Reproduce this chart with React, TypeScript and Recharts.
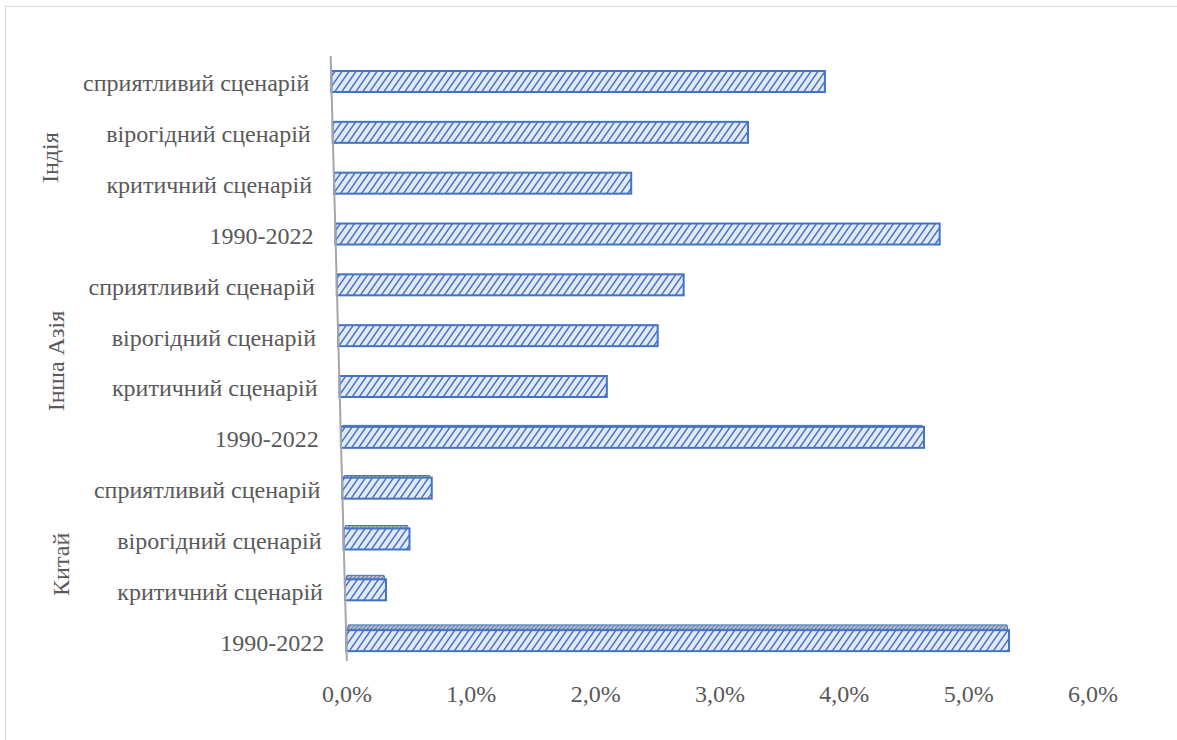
import { BarChart, Bar, XAxis, YAxis, ReferenceLine } from 'recharts';

// rows top to bottom: three regions, four series each
const regions = ['Індія', 'Інша Азія', 'Китай'];
const scenarios = ['сприятливий сценарій', 'вірогідний сценарій', 'критичний сценарій', '1990-2022'];

const indiaValues = [0.0397, 0.0334, 0.0239, 0.0486];
const otherAsiaValues = [0.0279, 0.0257, 0.0215, 0.0469];
const chinaValues = [0.0072, 0.0053, 0.0033, 0.0533];

const xTicks = [0, 0.01, 0.02, 0.03, 0.04, 0.05, 0.06];

const data = [indiaValues, otherAsiaValues, chinaValues].flatMap((vals, g) =>
  vals.map((value, i) => ({ key: `${g}-${i}`, label: scenarios[i], region: regions[g], value }))
);

const W = 1177;
const H = 740;
const PLOT_LEFT = 347;
const PLOT_RIGHT = 1093;
const PLOT_TOP = 56;
const PLOT_BOTTOM = 666;
const BAND = (PLOT_BOTTOM - PLOT_TOP) / data.length;
const SKEW = 0.0268; // floor tilt: rows further back drift left
const TOP_FACE = 6;

const TEXT = '#595959';
const FONT = "'Liberation Serif', 'Times New Roman', serif";
const FONT_SIZE = 24;
const BLUE = '#4472c4';

const shiftAt = (y: number) => -SKEW * (PLOT_BOTTOM - y);

const fmtPct = (v: number) => (v * 100).toFixed(1).replace('.', ',') + '%';

const HatchedBar = (props: any) => {
  const { x, y, width, height } = props;
  if (width == null || width <= 0) return null;
  const cy = y + height / 2;
  const x0 = x + shiftAt(cy);
  const t = (cy - PLOT_TOP) / (PLOT_BOTTOM - PLOT_TOP);
  const depth = TOP_FACE * t * t * t;
  return (
    <g>
      {depth > 1 && (
        <path
          d={`M${x0 + 1},${y} L${x0 + width - 1},${y} L${x0 + width - 2},${y - depth} L${x0 + 2},${y - depth} Z`}
          fill="url(#hatchTop)"
          stroke={BLUE}
          strokeWidth={1}
        />
      )}
      <rect x={x0} y={y} width={width} height={height} fill="url(#hatch)" stroke={BLUE} strokeWidth={2} />
    </g>
  );
};

const AxisLine = (props: any) => {
  const { x1, y1, y2 } = props;
  const top = Math.min(y1, y2);
  const bottom = Math.max(y1, y2) - 5;
  return (
    <line
      x1={x1 + shiftAt(top)}
      y1={top}
      x2={x1 + shiftAt(bottom)}
      y2={bottom}
      stroke="#a6a6a6"
      strokeWidth={2}
    />
  );
};

const CategoryTick = (props: any) => {
  const { y, payload, index } = props;
  const row = data[index];
  const labelX = PLOT_LEFT + shiftAt(y) - 22;
  let group = null;
  if (index % 4 === 1) {
    const gy = y + BAND / 2;
    const gx = 64 + shiftAt(gy);
    group = (
      <text
        x={gx}
        y={gy}
        transform={`rotate(-90 ${gx} ${gy})`}
        textAnchor="middle"
        dominantBaseline="central"
        fill={TEXT}
        fontSize={FONT_SIZE}
        fontFamily={FONT}
      >
        {row.region}
      </text>
    );
  }
  return (
    <g>
      <text x={labelX} y={y + 2} textAnchor="end" dominantBaseline="central" fill={TEXT} fontSize={FONT_SIZE} fontFamily={FONT}>
        {row ? row.label : payload.value}
      </text>
      {group}
    </g>
  );
};

const ValueTick = (props: any) => {
  const { x, payload } = props;
  return (
    <text x={x} y={PLOT_BOTTOM + 28} textAnchor="middle" dominantBaseline="central" fill={TEXT} fontSize={FONT_SIZE} fontFamily={FONT}>
      {fmtPct(payload.value)}
    </text>
  );
};

export default function App() {
  return (
    <div style={{ position: 'absolute', left: 0, top: 0, width: W, height: H, overflow: 'hidden', background: '#fff' }}>
      <svg width={0} height={0} style={{ position: 'absolute' }}>
        <defs>
          <pattern id="hatch" patternUnits="userSpaceOnUse" width={7} height={10}>
            <rect width={7} height={10} fill="#e2e9f6" />
            <path d="M-1,11.4 L8,-1.4 M-8,11.4 L1,-1.4 M6,11.4 L15,-1.4" stroke={BLUE} strokeWidth={1.5} />
          </pattern>
          <pattern id="hatchTop" patternUnits="userSpaceOnUse" width={4} height={4}>
            <rect width={4} height={4} fill="#b8c3d8" />
            <path d="M-1,1 L1,-1 M0,4 L4,0 M3,5 L5,3" stroke="#6d7fa3" strokeWidth={1.2} />
          </pattern>
        </defs>
      </svg>
      <div
        style={{
          position: 'absolute',
          left: 5,
          top: 6,
          width: W + 20,
          height: H + 20,
          border: '1.5px solid #d9d9d9',
          boxSizing: 'border-box',
        }}
      />
      <div style={{ position: 'absolute', left: 0, top: 0 }}>
        <BarChart
          width={W}
          height={H}
          data={data}
          layout="vertical"
          margin={{ top: PLOT_TOP, right: W - PLOT_RIGHT, bottom: 0, left: 0 }}
          barCategoryGap={0}
        >
          <XAxis
            type="number"
            domain={[0, 0.06]}
            ticks={xTicks}
            axisLine={false}
            tickLine={false}
            height={H - PLOT_BOTTOM}
            tick={<ValueTick />}
            interval={0}
          />
          <YAxis
            type="category"
            dataKey="key"
            width={PLOT_LEFT}
            axisLine={false}
            tickLine={false}
            interval={0}
            tick={<CategoryTick />}
          />
          <ReferenceLine x={0} shape={<AxisLine />} />
          <Bar dataKey="value" barSize={21} shape={<HatchedBar />} isAnimationActive={false} />
        </BarChart>
      </div>
    </div>
  );
}
